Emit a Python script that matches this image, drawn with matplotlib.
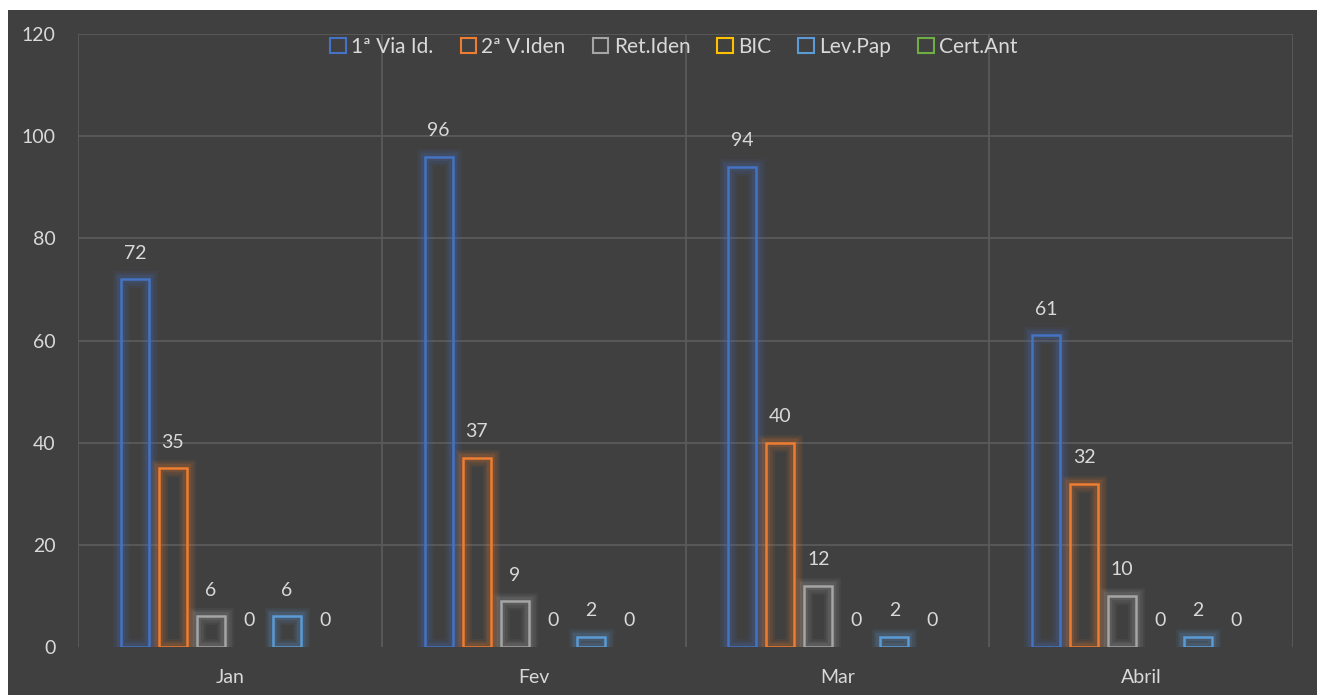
import matplotlib
matplotlib.use("Agg")
import matplotlib.pyplot as plt
import numpy as np
from matplotlib.patches import Patch, Rectangle

categories = ["Jan", "Fev", "Mar", "Abril"]
series_names = ["1ª Via Id.", "2ª V.Iden", "Ret.Iden", "BIC", "Lev.Pap", "Cert.Ant"]
via_id = [72, 96, 94, 61]
v_iden = [35, 37, 40, 32]
ret_iden = [6, 9, 12, 10]
bic = [0, 0, 0, 0]
lev_pap = [6, 2, 2, 2]
cert_ant = [0, 0, 0, 0]
series_values = [via_id, v_iden, ret_iden, bic, lev_pap, cert_ant]
colors = ["#4472C4", "#ED7D31", "#A5A5A5", "#FFC000", "#5B9BD5", "#70AD47"]
yticks = [0, 20, 40, 60, 80, 100, 120]

W, H = 1317, 695
fig = plt.figure(figsize=(W / 100, H / 100), dpi=100, facecolor="white")
bg = "#404040"
fig.patches.append(Rectangle((8 / W, 0), 1 - 8 / W, 1 - 10 / H, transform=fig.transFigure,
                             facecolor=bg, edgecolor="none", zorder=-5))

ax = fig.add_axes([78 / W, 48 / H, (1293 - 78) / W, (647 - 34) / H])
ax.set_facecolor("none")
ax.set_xlim(0, len(categories))
ax.set_ylim(0, 120)
for s in ax.spines.values():
    s.set_visible(False)

grid_c = "#5A5A5A"
for y in yticks[1:]:
    ax.axhline(y, color=grid_c, lw=1.3, zorder=1)
for x in range(len(categories) + 1):
    ax.axvline(x, color=grid_c, lw=1.3, zorder=1)

text_c = "#D9D9D9"
font = "Lato"
fs = 14
slot = 38 / 303.5
bw = 28 / 303.5
xs = np.arange(len(categories)) + 0.5
for k, (vals, c) in enumerate(zip(series_values, colors)):
    pos = xs + (k - 2.5) * slot
    bars = ax.bar(pos, vals, width=bw, facecolor="none", edgecolor=c, linewidth=1.8, zorder=4)
    for b in bars:
        if b.get_height() <= 0:
            b.set_edgecolor("none")
            continue
        for lw, a in [(12, 0.08), (9, 0.1), (6, 0.14)]:
            ax.add_patch(Rectangle(b.get_xy(), b.get_width(), b.get_height(), facecolor="none",
                                   edgecolor=c, linewidth=lw, alpha=a, zorder=3))
    for p, v in zip(pos, vals):
        ax.annotate(str(v), (p, v), xytext=(0, 26), textcoords="offset pixels",
                    ha="center", va="center", color=text_c, fontsize=fs, family=font)

ax.set_yticks(yticks)
ax.set_yticklabels([str(t) for t in yticks], family=font, fontsize=fs, color=text_c)
ax.set_xticks(xs)
ax.set_xticklabels(categories, family=font, fontsize=fs, color=text_c)
ax.tick_params(axis="both", length=0)
ax.tick_params(axis="y", pad=16)
ax.tick_params(axis="x", pad=16)

handles = [Patch(facecolor="none", edgecolor=c, linewidth=1.5) for c in colors]
fig.legend(handles, series_names, loc="center", bbox_to_anchor=(674 / W, 1 - 47 / H),
           ncol=6, frameon=False, handlelength=0.75, handleheight=0.75, handletextpad=0.25,
           columnspacing=1.3, prop={"family": font, "size": 15}, labelcolor=text_c)

fig.savefig("out.png", dpi=100, facecolor="white")
